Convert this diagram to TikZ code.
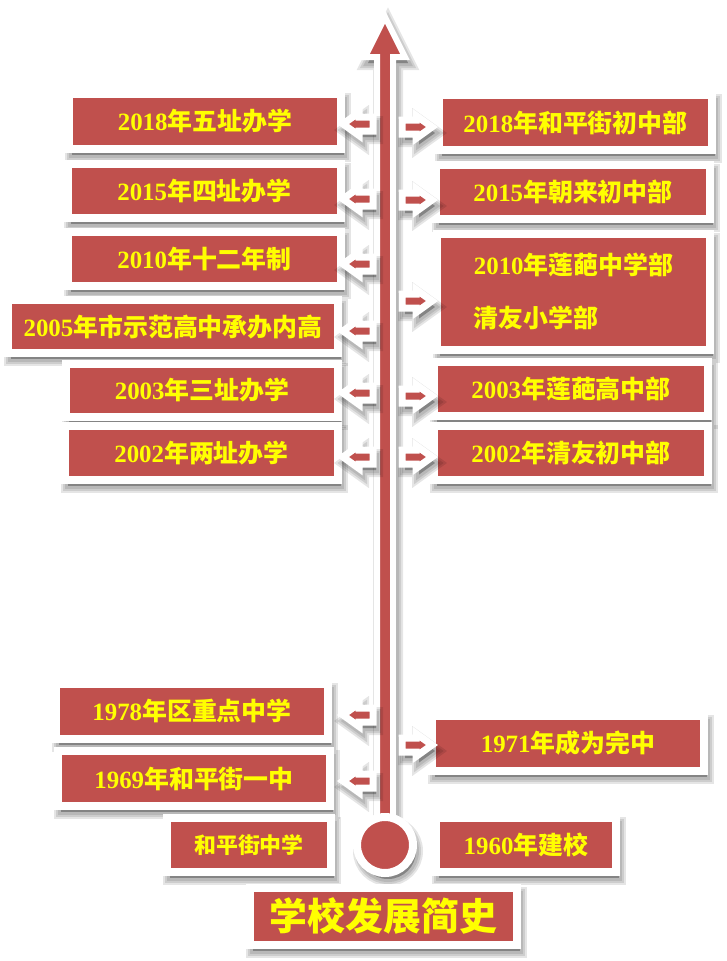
\documentclass[tikz,border=0pt]{standalone}
\usepackage{fontspec}
\setmainfont{Liberation Serif}
\newfontfamily\cj{Noto Sans CJK SC}
\definecolor{bred}{HTML}{C0504D}
\definecolor{tyel}{HTML}{FFFF00}
\newcommand\yt[2]{\textbf{#1}{\cj\bfseries #2}}
\newcommand\ct[1]{{\cj\bfseries #1}}
\begin{document}
\begin{tikzpicture}[x=1bp,y=-1bp,
  shlayer/.style={preaction={draw=black, fill=black, opacity=0.1, line join=miter, line width=#1,
      transform canvas={shift={(3bp,-6bp)}}}},
  shad/.style={shlayer=14bp, shlayer=10bp, shlayer=6bp},
  box/.style={shad, rectangle, fill=bred, draw=white, line width=8bp, inner sep=0pt,
    text=tyel, font=\fontsize{25}{29}\selectfont},
  arw/.style={shad, fill=bred, draw=white, line width=7bp, line join=miter},
  larr/.pic={\path[arw] (15,-7) -- (1,-7) -- (1,-11.5) -- (-15,0) -- (1,11.5) -- (1,7) -- (15,7) -- cycle;},
  rarr/.pic={\path[arw] (-15,-7) -- (-1,-7) -- (-1,-11.5) -- (15,0) -- (-1,11.5) -- (-1,7) -- (-15,7) -- cycle;}
]
\fill[white] (0,0) rectangle (727,961);
\useasboundingbox (0,0) rectangle (727,961);

% main axis
\path[shad, fill=bred, draw=white, line width=6bp, line join=miter]
  (377,825) -- (377,57) -- (365,57) -- (385,17) -- (405,57) -- (393,57) -- (393,825) -- cycle;
\node[shad, circle, fill=bred, draw=white, line width=8bp, minimum size=56bp, inner sep=0pt] (origin) at (385,845) {};

% left boxes
\node[box, minimum width=272bp, minimum height=55bp] (l2018) at (205,121.5) {\yt{2018}{年五址办学}};
\node[box, minimum width=273bp, minimum height=54bp] (l2015) at (204.5,191) {\yt{2015}{年四址办学}};
\node[box, minimum width=273bp, minimum height=54bp] (l2010) at (204.5,259) {\yt{2010}{年十二年制}};
\node[box, minimum width=330bp, minimum height=53bp] (l2005) at (173,326.5) {\yt{2005}{年市示范高中承办内高}};
\node[box, minimum width=272bp, minimum height=53bp] (l2003) at (202,390) {\yt{2003}{年三址办学}};
\node[box, minimum width=273bp, minimum height=54bp] (l2002) at (201.5,453) {\yt{2002}{年两址办学}};
\node[box, minimum width=272bp, minimum height=55bp] (l1978) at (192,711) {\yt{1978}{年区重点中学}};
\node[box, minimum width=272bp, minimum height=55bp] (l1969) at (194,778.5) {\yt{1969}{年和平街一中}};
\node[box, minimum width=164bp, minimum height=54bp, font=\fontsize{22}{26}\selectfont] (hpj) at (249,845) {\ct{和平街中学}};

% right boxes
\node[box, minimum width=273bp, minimum height=55bp] (r2018) at (575.5,122.5) {\yt{2018}{年和平街初中部}};
\node[box, minimum width=274bp, minimum height=54bp] (r2015) at (573,192) {\yt{2015}{年朝来初中部}};
\node[box, minimum width=273bp, minimum height=116bp, align=left, font=\fontsize{25}{53}\selectfont] (r2010) at (573.5,291.5) {\yt{2010}{年莲葩中学部}\\\ct{清友小学部}};
\node[box, minimum width=274bp, minimum height=54bp] (r2003) at (571,389) {\yt{2003}{年莲葩高中部}};
\node[box, minimum width=274bp, minimum height=54bp] (r2002) at (571,453) {\yt{2002}{年清友初中部}};
\node[box, minimum width=272bp, minimum height=55bp] (r1971) at (568,743.5) {\yt{1971}{年成为完中}};
\node[box, minimum width=180bp, minimum height=54bp] (r1960) at (526,845) {\yt{1960}{年建校}};

% title
\node[box, minimum width=267bp, minimum height=57bp, font=\fontsize{38}{44}\selectfont] (title) at (383.5,916.5) {\ct{学校发展简史}};

% small arrows
\foreach \y in {124,199,264,331,393,457,715,781} \pic at (358,\y) {larr};
\foreach \y in {127,200,301,396,457,745} \pic at (417,\y) {rarr};
\end{tikzpicture}
\end{document}
